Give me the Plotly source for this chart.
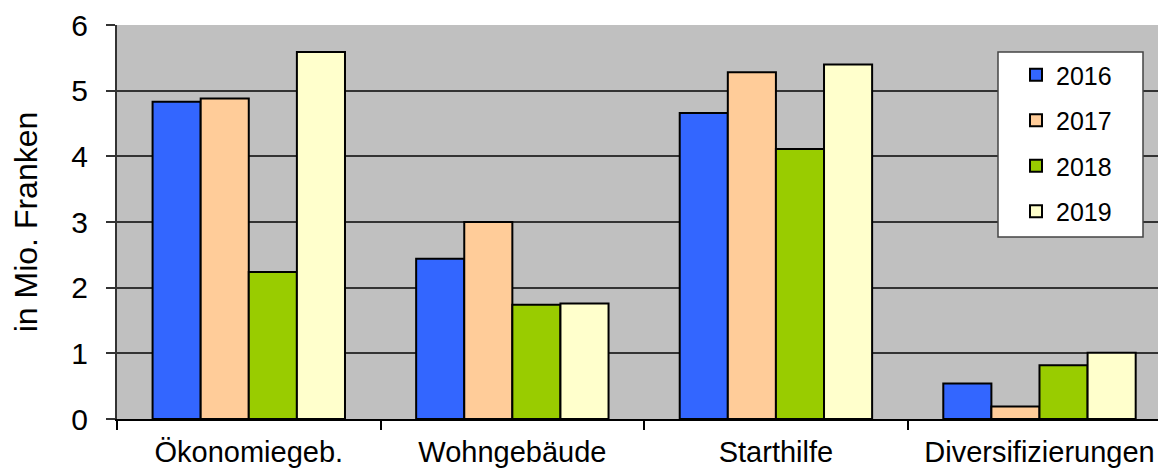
import plotly.graph_objects as go

categories = ["Ökonomiegeb.", "Wohngebäude", "Starthilfe", "Diversifizierungen"]
years = ["2016", "2017", "2018", "2019"]
v2016 = [4.83, 2.44, 4.66, 0.54]
v2017 = [4.88, 3.00, 5.28, 0.19]
v2018 = [2.24, 1.74, 4.11, 0.82]
v2019 = [5.59, 1.76, 5.40, 1.01]
colors = ["#3366FF", "#FFCC99", "#99CC00", "#FFFFCC"]
y_ticks = [0, 1, 2, 3, 4, 5, 6]

series = [v2016, v2017, v2018, v2019]

fig = go.Figure()
for i, (name, vals) in enumerate(zip(years, series)):
    fig.add_trace(go.Bar(
        x=categories, y=vals, name=name,
        marker=dict(color=colors[i], line=dict(color="#000000", width=2)),
        legendgroup=name,
    ))

OFF = 8  # page body margin
W, H = 1166 - OFF, 468 - OFF
L = 117 - OFF
T = 25 - OFF
B = 468 - 419
pw = W - L
ph = H - T - B

def px(x):
    return (x - OFF - L) / pw

def py(y):
    return (H - B - (y - OFF)) / ph

fig.update_layout(
    width=W, height=H,
    margin=dict(l=L, r=0, t=T, b=B, pad=0),
    paper_bgcolor="white",
    plot_bgcolor="#C0C0C0",
    barmode="group",
    bargap=0.27,
    bargroupgap=0,
    font=dict(family="Liberation Sans, Arial, sans-serif", color="#000000"),
    showlegend=True,
    legend=dict(
        x=px(1016), y=py(52), xanchor="left", yanchor="top",
        bgcolor="rgba(0,0,0,0)", borderwidth=0,
        font=dict(size=25),
        tracegroupgap=10,
    ),
    shapes=[dict(
        type="rect", xref="paper", yref="paper",
        x0=px(998), x1=px(1143), y0=py(237), y1=py(52),
        fillcolor="white", line=dict(color="#444444", width=1.5),
        layer="above",
    )],
)

fig.update_xaxes(
    range=[-0.5, 3.48],
    showline=True, linecolor="#000000", linewidth=1.5,
    ticks="outside", tickson="boundaries", ticklen=9, tickcolor="#000000", tickwidth=1.5,
    tickfont=dict(size=29),
    ticklabelstandoff=6,
    showgrid=False,
    mirror=False,
)
fig.update_yaxes(
    range=[0, 6],
    tickvals=y_ticks,
    showline=True, linecolor="#333333", linewidth=2,
    ticks="outside", ticklen=9, tickcolor="#333333", tickwidth=1.5,
    tickfont=dict(size=30),
    ticklabelstandoff=12,
    showgrid=True, gridcolor="#333333", gridwidth=1.5,
    zeroline=False,
    title=dict(text="in Mio. Franken", font=dict(size=32), standoff=24),
)

fig.write_html("out.html")
